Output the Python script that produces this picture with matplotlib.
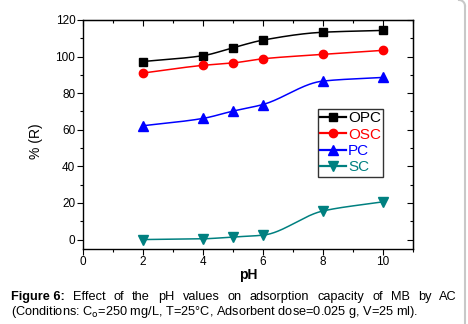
import numpy as np
import matplotlib
matplotlib.use('Agg')
import matplotlib.pyplot as plt
from matplotlib.lines import Line2D

plt.rcParams['font.family'] = ['Liberation Sans', 'DejaVu Sans']

# data
ph = [2, 4, 5, 6, 8, 10]
opc = [97.3, 100.5, 104.8, 109.0, 113.3, 114.3]
osc = [91.0, 95.2, 96.5, 98.8, 101.2, 103.4]
pc = [62.2, 66.2, 70.2, 73.8, 86.6, 88.6]
sc = [0.0, 0.4, 1.4, 2.4, 15.6, 20.6]

names = ['OPC', 'OSC', 'PC', 'SC']
colors = ['black', '#ff0000', '#0000ff', '#008080']
markers = ['s', 'o', '^', 'v']
msizes = [5.5, 6, 6.5, 6.5]


def pchip(x, y, n=200):
    # monotone cubic through the points, only used to draw the curve
    x = np.asarray(x, float)
    y = np.asarray(y, float)
    h = np.diff(x)
    d = np.diff(y) / h
    m = np.zeros_like(y)
    for k in range(1, len(x) - 1):
        if d[k - 1] * d[k] > 0:
            w1 = 2 * h[k] + h[k - 1]
            w2 = h[k] + 2 * h[k - 1]
            m[k] = (w1 + w2) / (w1 / d[k - 1] + w2 / d[k])
    m[0] = d[0]
    m[-1] = d[-1]
    xs = np.linspace(x[0], x[-1], n)
    idx = np.clip(np.searchsorted(x, xs) - 1, 0, len(h) - 1)
    t = (xs - x[idx]) / h[idx]
    h00 = 2 * t**3 - 3 * t**2 + 1
    h10 = t**3 - 2 * t**2 + t
    h01 = -2 * t**3 + 3 * t**2
    h11 = t**3 - t**2
    ys = (h00 * y[idx] + h10 * h[idx] * m[idx] + h01 * y[idx + 1]
          + h11 * h[idx] * m[idx + 1])
    return xs, ys


fig = plt.figure(figsize=(4.68, 3.24), dpi=100)
ax = fig.add_axes([0.1774, 0.2324, 0.7044, 0.7059])

handles = []
for vals, name, c, mk, ms in zip([opc, osc, pc, sc], names, colors, markers, msizes):
    xs, ys = pchip(ph, vals)
    ax.plot(xs, ys, color=c, lw=1.1)
    ax.plot(ph, vals, ls='none', marker=mk, color=c, ms=ms)
    handles.append(Line2D([], [], color=c, lw=1.6, marker=mk, ms=ms))

ax.set_xlim(0, 11)
ax.set_ylim(-5, 120)
ax.set_xticks([0, 2, 4, 6, 8, 10])
ax.set_xticks(np.arange(0, 12, 1), minor=True)
ax.set_yticks([0, 20, 40, 60, 80, 100, 120])
ax.set_yticks(np.arange(0, 121, 10), minor=True)
ax.tick_params(which='both', direction='out', labelsize=8.5, pad=1.5, width=0.8)
ax.tick_params(which='major', length=4)
ax.tick_params(which='minor', length=2.5)
for s in ax.spines.values():
    s.set_linewidth(1.0)

# inward ticks on top and right
top = ax.secondary_xaxis('top')
top.set_xticks([0, 2, 4, 6, 8, 10])
top.set_xticks(np.arange(0, 12, 1), minor=True)
top.tick_params(which='both', direction='in', labeltop=False, width=0.8)
top.tick_params(which='major', length=4)
top.tick_params(which='minor', length=2.5)
right = ax.secondary_yaxis('right')
right.set_yticks([0, 20, 40, 60, 80, 100, 120])
right.set_yticks(np.arange(0, 121, 10), minor=True)
right.tick_params(which='both', direction='in', labelright=False, width=0.8)
right.tick_params(which='major', length=4)
right.tick_params(which='minor', length=2.5)

ax.set_xlabel('pH', fontsize=10, fontweight='bold', labelpad=0)
ax.set_ylabel('% (R)', fontsize=10)
ax.yaxis.set_label_coords(-0.12, 0.47)

leg = ax.legend(handles, names, loc='upper left', bbox_to_anchor=(0.713, 0.61),
                borderaxespad=0, fontsize=11, handlelength=1.7, handletextpad=0.1,
                borderpad=0.15, labelspacing=0.15, frameon=True, fancybox=False)
leg.get_frame().set_edgecolor('black')
leg.get_frame().set_linewidth(1.0)
for t, c in zip(leg.get_texts(), colors):
    t.set_color(c)

# caption, first line justified between x=11 and x=457 px
cap_words = ['Figure 6:', 'Effect', 'of', 'the', 'pH', 'values', 'on', 'adsorption',
             'capacity', 'of', 'MB', 'by', 'AC']
cap_line2 = '(Conditions: C$_\\mathrm{o}$=250 mg/L, T=25\u00b0C, Adsorbent dose=0.025 g, V=25 ml).'
x0, x1 = 11, 457
y1 = 1 - 297 / 324
renderer = fig.canvas.get_renderer()
texts = []
widths = []
for i, w in enumerate(cap_words):
    t = fig.text(0, y1, w, fontsize=9.2, va='center',
                 fontweight='bold' if i == 0 else 'normal')
    texts.append(t)
    widths.append(t.get_window_extent(renderer).width)
gap = (x1 - x0 - sum(widths)) / (len(cap_words) - 1)
xpos = x0
for t, wd in zip(texts, widths):
    t.set_x(xpos / 468)
    xpos += wd + gap
fig.text(x0 / 468, 1 - 312 / 324, cap_line2, fontsize=9.2, va='center')

# page frame edge on the right
fig.add_artist(Line2D([465 / 468, 465 / 468], [0, 1 - 6 / 324], color='#c8c8c8', lw=1.5))
arc = np.linspace(0, np.pi / 2, 20)
fig.add_artist(Line2D((459 + 6 * np.cos(arc)) / 468, (324 - 6 + 6 * np.sin(arc)) / 324,
                      color='#c8c8c8', lw=1.5))

fig.savefig('out.png', dpi=100)
